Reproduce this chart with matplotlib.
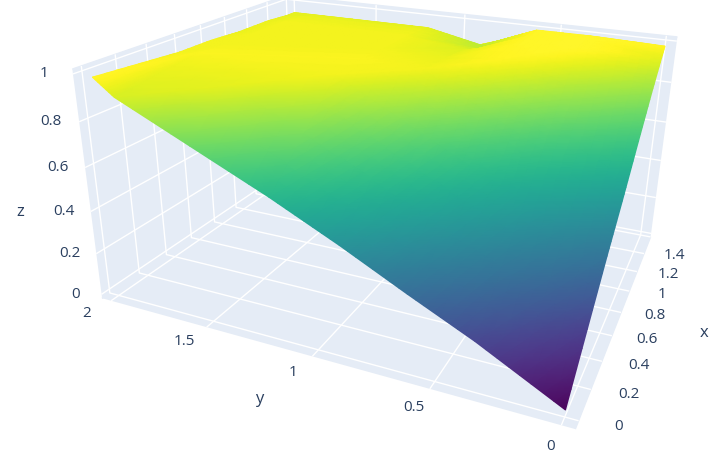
import numpy as np
import matplotlib
matplotlib.use('Agg')
import matplotlib.pyplot as plt
from matplotlib.colors import ListedColormap
from matplotlib.tri import Triangulation, UniformTriRefiner, LinearTriInterpolator
from mpl_toolkits.mplot3d import proj3d

x_vals = [0, 0.56, 0.8, 1.04, 1.32, 1.52, 1.6]
y_vals = [0, 0.35, 0.62, 0.9, 1.2, 1.9, 2.0]
# rows follow x_vals, columns follow y_vals
z_vals = [[0.01, 0.20, 0.33, 0.47, 0.61, 0.91, 0.98],
          [0.36, 0.53, 0.66, 0.80, 0.95, 0.96, 0.95],
          [0.50, 0.67, 0.81, 0.95, 0.96, 0.95, 0.95],
          [0.65, 0.82, 0.97, 0.94, 0.95, 0.95, 0.94],
          [0.82, 0.99, 0.98, 0.92, 0.95, 0.95, 0.94],
          [0.93, 0.99, 0.98, 0.88, 0.94, 0.94, 0.93],
          [0.97, 0.98, 0.98, 0.87, 0.93, 0.93, 0.93]]

x_ticks = [0, 0.2, 0.4, 0.6, 0.8, 1, 1.2, 1.4]
y_ticks = [0, 0.5, 1, 1.5, 2]
z_ticks = [0, 0.2, 0.4, 0.6, 0.8, 1]

W, H = 719, 471
ink = '#2a3f5f'
plt.rcParams['font.family'] = ['Open Sans', 'DejaVu Sans']

fig = plt.figure(figsize=(W / 100, H / 100), dpi=100)
side = 615
cx, cy = 390, 172
ax = fig.add_axes([(cx - side / 2) / W, (H - cy - side / 2) / H, side / W, side / H], projection='3d')
ax.set_proj_type('persp', focal_length=0.265)
ax.view_init(elev=22, azim=-156.5, roll=-0.8)
ax.set_box_aspect((1.65, 2.1, 1.04))
ax.set_xlim(-0.05, 1.6)
ax.set_ylim(-0.05, 2.05)
ax.set_zlim(-0.02, 1.02)

for axis, ticks in [(ax.xaxis, x_ticks + [1.6]), (ax.yaxis, y_ticks), (ax.zaxis, z_ticks)]:
    axis.set_ticks(ticks)
    axis.set_ticklabels([])
    for tick in axis.get_major_ticks():
        tick.label1.set_visible(False)
    axis.set_pane_color('#E5ECF6')
    axis.pane.set_edgecolor('#E5ECF6')
    axis.line.set_color((0, 0, 0, 0))
    axis._axinfo['grid'].update(color='white', linewidth=1.0)
    axis._axinfo['tick'].update(inward_factor=0, outward_factor=0)
ax.grid(True)

for v in x_ticks:
    ax.text(v, -0.19, 0, '%g' % v, color=ink, fontsize=11, rotation=-15, ha='center', va='center')
for v in y_ticks:
    ax.text(-0.2, v, 0, '%g' % v, color=ink, fontsize=11, rotation=45, ha='center', va='center')
for v in z_ticks:
    ax.text(-0.1, 2.15, v, '%g' % v, color=ink, fontsize=11, rotation=25, ha='center', va='center')

# plot_surface has no gouraud shading, so project the grid and shade it on a 2d layer
ax.apply_aspect()
X, Y = np.meshgrid(x_vals, y_vals, indexing='ij')
Z = np.array(z_vals)

n, m = Z.shape
tris = []
for i in range(n - 1):
    for j in range(m - 1):
        a = i * m + j
        b = (i + 1) * m + j
        c = i * m + j + 1
        d = (i + 1) * m + j + 1
        tris.append([a, b, c])
        tris.append([b, d, c])

# gouraud blends rgb, so split the big triangles to stay on the colormap
grid_tri = Triangulation(X.ravel(), Y.ravel(), tris)
linear = LinearTriInterpolator(grid_tri, Z.ravel())
fine_tri, fine_z = UniformTriRefiner(grid_tri).refine_field(Z.ravel(), triinterpolator=linear, subdiv=3)

ax.M = ax.get_proj()
px, py, _ = proj3d.proj_transform(fine_tri.x, fine_tri.y, fine_z, ax.M)
pix = ax.transData.transform(np.column_stack([px, py]))

# plotly lighting lifts the colours a bit
lit = plt.get_cmap('viridis')(np.linspace(0, 1, 256))[:, :3] * 1.05 + 0.015
lit_viridis = ListedColormap(np.clip(lit, 0, 1))

top = fig.add_axes([0, 0, 1, 1], facecolor='none')
top.set_xlim(0, W)
top.set_ylim(0, H)
top.axis('off')
top.tripcolor(Triangulation(pix[:, 0], pix[:, 1], fine_tri.triangles), fine_z, shading='gouraud', cmap=lit_viridis, vmin=0.01, vmax=0.99)

top.text(704, H - 333, 'x', color=ink, fontsize=12, ha='center', va='center')
top.text(259, H - 399, 'y', color=ink, fontsize=12, ha='center', va='center')
top.text(20, H - 212, 'z', color=ink, fontsize=12, ha='center', va='center')

fig.savefig('out.png', dpi=100)
